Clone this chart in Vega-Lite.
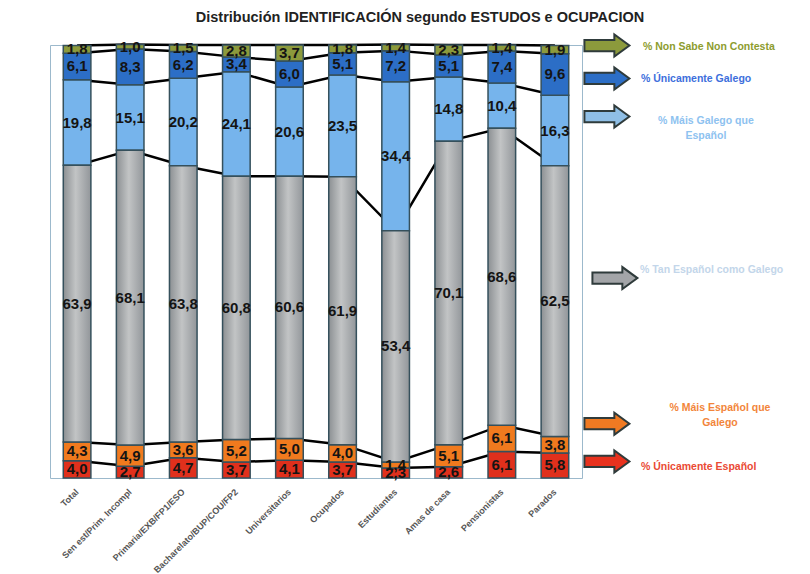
{
  "$schema": "https://vega.github.io/schema/vega-lite/v6.json",
  "width": 532,
  "height": 433,
  "autosize": {"type": "none"},
  "padding": {"left": 50, "top": 45, "right": 228, "bottom": 96},
  "background": "white",
  "config": {
    "locale": {"number": {"decimal": ",", "thousands": ".", "grouping": [3], "currency": ["", " €"]}},
    "view": {"stroke": "#9cb9cc", "strokeWidth": 1},
    "font": "Liberation Sans"
  },
  "title": {
    "text": "Distribución IDENTIFICACIÓN segundo ESTUDOS e OCUPACION",
    "fontSize": 14.5,
    "fontWeight": "bold",
    "color": "#222222",
    "anchor": "middle",
    "dx": 104,
    "dy": 23,
    "offset": 5
  },
  "data": {
    "values": [
      {"grupo": "Total", "serie": "Únicamente Español", "orden": 1, "valor": 4.0},
      {"grupo": "Total", "serie": "Máis Español que Galego", "orden": 2, "valor": 4.3},
      {"grupo": "Total", "serie": "Tan Español como Galego", "orden": 3, "valor": 63.9},
      {"grupo": "Total", "serie": "Máis Galego que Español", "orden": 4, "valor": 19.8},
      {"grupo": "Total", "serie": "Únicamente Galego", "orden": 5, "valor": 6.1},
      {"grupo": "Total", "serie": "Non Sabe Non Contesta", "orden": 6, "valor": 1.8},
      {"grupo": "Sen est/Prim. Incompl", "serie": "Únicamente Español", "orden": 1, "valor": 2.7},
      {"grupo": "Sen est/Prim. Incompl", "serie": "Máis Español que Galego", "orden": 2, "valor": 4.9},
      {"grupo": "Sen est/Prim. Incompl", "serie": "Tan Español como Galego", "orden": 3, "valor": 68.1},
      {"grupo": "Sen est/Prim. Incompl", "serie": "Máis Galego que Español", "orden": 4, "valor": 15.1},
      {"grupo": "Sen est/Prim. Incompl", "serie": "Únicamente Galego", "orden": 5, "valor": 8.3},
      {"grupo": "Sen est/Prim. Incompl", "serie": "Non Sabe Non Contesta", "orden": 6, "valor": 1.0},
      {"grupo": "Primaria/EXB/FP1/ESO", "serie": "Únicamente Español", "orden": 1, "valor": 4.7},
      {"grupo": "Primaria/EXB/FP1/ESO", "serie": "Máis Español que Galego", "orden": 2, "valor": 3.6},
      {"grupo": "Primaria/EXB/FP1/ESO", "serie": "Tan Español como Galego", "orden": 3, "valor": 63.8},
      {"grupo": "Primaria/EXB/FP1/ESO", "serie": "Máis Galego que Español", "orden": 4, "valor": 20.2},
      {"grupo": "Primaria/EXB/FP1/ESO", "serie": "Únicamente Galego", "orden": 5, "valor": 6.2},
      {"grupo": "Primaria/EXB/FP1/ESO", "serie": "Non Sabe Non Contesta", "orden": 6, "valor": 1.5},
      {"grupo": "Bacharelato/BUP/COU/FP2", "serie": "Únicamente Español", "orden": 1, "valor": 3.7},
      {"grupo": "Bacharelato/BUP/COU/FP2", "serie": "Máis Español que Galego", "orden": 2, "valor": 5.2},
      {"grupo": "Bacharelato/BUP/COU/FP2", "serie": "Tan Español como Galego", "orden": 3, "valor": 60.8},
      {"grupo": "Bacharelato/BUP/COU/FP2", "serie": "Máis Galego que Español", "orden": 4, "valor": 24.1},
      {"grupo": "Bacharelato/BUP/COU/FP2", "serie": "Únicamente Galego", "orden": 5, "valor": 3.4},
      {"grupo": "Bacharelato/BUP/COU/FP2", "serie": "Non Sabe Non Contesta", "orden": 6, "valor": 2.8},
      {"grupo": "Universitarios", "serie": "Únicamente Español", "orden": 1, "valor": 4.1},
      {"grupo": "Universitarios", "serie": "Máis Español que Galego", "orden": 2, "valor": 5.0},
      {"grupo": "Universitarios", "serie": "Tan Español como Galego", "orden": 3, "valor": 60.6},
      {"grupo": "Universitarios", "serie": "Máis Galego que Español", "orden": 4, "valor": 20.6},
      {"grupo": "Universitarios", "serie": "Únicamente Galego", "orden": 5, "valor": 6.0},
      {"grupo": "Universitarios", "serie": "Non Sabe Non Contesta", "orden": 6, "valor": 3.7},
      {"grupo": "Ocupados", "serie": "Únicamente Español", "orden": 1, "valor": 3.7},
      {"grupo": "Ocupados", "serie": "Máis Español que Galego", "orden": 2, "valor": 4.0},
      {"grupo": "Ocupados", "serie": "Tan Español como Galego", "orden": 3, "valor": 61.9},
      {"grupo": "Ocupados", "serie": "Máis Galego que Español", "orden": 4, "valor": 23.5},
      {"grupo": "Ocupados", "serie": "Únicamente Galego", "orden": 5, "valor": 5.1},
      {"grupo": "Ocupados", "serie": "Non Sabe Non Contesta", "orden": 6, "valor": 1.8},
      {"grupo": "Estudiantes", "serie": "Únicamente Español", "orden": 1, "valor": 2.3},
      {"grupo": "Estudiantes", "serie": "Máis Español que Galego", "orden": 2, "valor": 1.4},
      {"grupo": "Estudiantes", "serie": "Tan Español como Galego", "orden": 3, "valor": 53.4},
      {"grupo": "Estudiantes", "serie": "Máis Galego que Español", "orden": 4, "valor": 34.4},
      {"grupo": "Estudiantes", "serie": "Únicamente Galego", "orden": 5, "valor": 7.2},
      {"grupo": "Estudiantes", "serie": "Non Sabe Non Contesta", "orden": 6, "valor": 1.4},
      {"grupo": "Amas de casa", "serie": "Únicamente Español", "orden": 1, "valor": 2.6},
      {"grupo": "Amas de casa", "serie": "Máis Español que Galego", "orden": 2, "valor": 5.1},
      {"grupo": "Amas de casa", "serie": "Tan Español como Galego", "orden": 3, "valor": 70.1},
      {"grupo": "Amas de casa", "serie": "Máis Galego que Español", "orden": 4, "valor": 14.8},
      {"grupo": "Amas de casa", "serie": "Únicamente Galego", "orden": 5, "valor": 5.1},
      {"grupo": "Amas de casa", "serie": "Non Sabe Non Contesta", "orden": 6, "valor": 2.3},
      {"grupo": "Pensionistas", "serie": "Únicamente Español", "orden": 1, "valor": 6.1},
      {"grupo": "Pensionistas", "serie": "Máis Español que Galego", "orden": 2, "valor": 6.1},
      {"grupo": "Pensionistas", "serie": "Tan Español como Galego", "orden": 3, "valor": 68.6},
      {"grupo": "Pensionistas", "serie": "Máis Galego que Español", "orden": 4, "valor": 10.4},
      {"grupo": "Pensionistas", "serie": "Únicamente Galego", "orden": 5, "valor": 7.4},
      {"grupo": "Pensionistas", "serie": "Non Sabe Non Contesta", "orden": 6, "valor": 1.4},
      {"grupo": "Parados", "serie": "Únicamente Español", "orden": 1, "valor": 5.8},
      {"grupo": "Parados", "serie": "Máis Español que Galego", "orden": 2, "valor": 3.8},
      {"grupo": "Parados", "serie": "Tan Español como Galego", "orden": 3, "valor": 62.5},
      {"grupo": "Parados", "serie": "Máis Galego que Español", "orden": 4, "valor": 16.3},
      {"grupo": "Parados", "serie": "Únicamente Galego", "orden": 5, "valor": 9.6},
      {"grupo": "Parados", "serie": "Non Sabe Non Contesta", "orden": 6, "valor": 1.9}
    ]
  },
  "transform": [
    {"stack": "valor", "groupby": ["grupo"], "sort": [{"field": "orden", "order": "ascending"}], "as": ["y0", "y1"]}
  ],
  "encoding": {
    "x": {
      "field": "grupo",
      "type": "nominal",
      "sort": null,
      "scale": {"paddingInner": 0.48, "paddingOuter": 0.25},
      "axis": {
        "title": null,
        "labelAngle": -45,
        "labelAlign": "right",
        "labelBaseline": "middle",
        "labelFontSize": 9,
        "labelFontWeight": "bold",
        "labelColor": "#555555",
        "ticks": false,
        "domain": false,
        "labelPadding": 12,
        "labelLimit": 200
      }
    }
  },
  "layer": [
    {
      "mark": {"type": "line", "color": "#000000", "strokeWidth": 2.5},
      "encoding": {
        "y": {
          "field": "y1",
          "type": "quantitative",
          "scale": {"domain": [0, 100], "nice": false},
          "axis": {
            "title": null,
            "values": [0, 20, 40, 60, 80, 100],
            "labelExpr": "datum.value + '%'",
            "grid": true,
            "gridColor": "#b7c9d6",
            "gridWidth": 1,
            "domain": false,
            "ticks": true,
            "tickColor": "#9cb9cc",
            "tickSize": 8,
            "labelFontSize": 11,
            "labelFontWeight": "bold",
            "labelColor": "#3a3a3a",
            "labelPadding": 1
          }
        },
        "detail": {"field": "serie"}
      }
    },
    {
      "transform": [{"filter": "datum.orden !== 3"}],
      "mark": {"type": "bar", "stroke": "#35505c", "strokeWidth": 1.5},
      "encoding": {
        "y": {"field": "y0", "type": "quantitative", "axis": null},
        "y2": {"field": "y1"},
        "color": {
          "field": "serie",
          "type": "nominal",
          "scale": {
            "domain": ["Únicamente Español", "Máis Español que Galego", "Tan Español como Galego", "Máis Galego que Español", "Únicamente Galego", "Non Sabe Non Contesta"],
            "range": ["#e0301c", "#f07a1e", "#a5a8aa", "#76b4ec", "#2c6ec6", "#8c9a3c"]
          },
          "legend": null
        }
      }
    },
    {
      "transform": [{"filter": "datum.orden === 3"}],
      "mark": {
        "type": "bar",
        "stroke": "#35505c",
        "strokeWidth": 1.5,
        "fill": {
          "gradient": "linear",
          "x1": 0, "y1": 0, "x2": 1, "y2": 0,
          "stops": [
            {"offset": 0, "color": "#8c9093"},
            {"offset": 0.45, "color": "#c2c4c5"},
            {"offset": 1, "color": "#92969a"}
          ]
        }
      },
      "encoding": {
        "y": {"field": "y0", "type": "quantitative", "axis": null},
        "y2": {"field": "y1"}
      }
    },
    {
      "mark": {"type": "text", "fontSize": 15, "fontWeight": "bold", "color": "#141414", "baseline": "middle"},
      "encoding": {
        "y": {"field": "valor", "type": "quantitative", "stack": "zero", "bandPosition": 0.5, "axis": null},
        "order": {"field": "orden", "type": "quantitative"},
        "text": {"field": "valor", "type": "quantitative", "format": ".1f"}
      }
    },
    {
      "transform": [{"filter": "datum.grupo === 'Parados'"}],
      "encoding": {
        "y": {"field": "valor", "type": "quantitative", "stack": "zero", "bandPosition": 0.5, "axis": null},
        "order": {"field": "orden", "type": "quantitative"}
      },
      "layer": [
        {
          "mark": {"type": "text", "align": "left", "baseline": "middle", "xOffset": 88, "yOffset": -3, "fontSize": 10.5, "fontWeight": "bold", "color": "#8d9c2e"},
          "encoding": {"text": {"condition": {"test": "datum.orden === 6", "value": "% Non Sabe Non Contesta"}, "value": ""}}
        },
        {
          "mark": {"type": "text", "align": "left", "baseline": "middle", "xOffset": 86, "yOffset": 5, "fontSize": 10.5, "fontWeight": "bold", "color": "#3d6fdc"},
          "encoding": {"text": {"condition": {"test": "datum.orden === 5", "value": "% Únicamente Galego"}, "value": ""}}
        },
        {
          "mark": {"type": "text", "align": "center", "baseline": "middle", "lineHeight": 15, "xOffset": 151, "yOffset": -10, "fontSize": 10.5, "fontWeight": "bold", "color": "#8ec2f0"},
          "encoding": {"text": {"condition": {"test": "datum.orden === 4", "value": ["% Máis Galego que", "Español"]}, "value": ""}}
        },
        {
          "mark": {"type": "text", "align": "left", "baseline": "middle", "xOffset": 85, "yOffset": -31, "fontSize": 10.5, "fontWeight": "bold", "color": "#c3d6ea"},
          "encoding": {"text": {"condition": {"test": "datum.orden === 3", "value": "% Tan Español como Galego"}, "value": ""}}
        },
        {
          "mark": {"type": "text", "align": "center", "baseline": "middle", "lineHeight": 15, "xOffset": 165, "yOffset": -37, "fontSize": 10.5, "fontWeight": "bold", "color": "#f2853a"},
          "encoding": {"text": {"condition": {"test": "datum.orden === 2", "value": ["% Máis Español que", "Galego"]}, "value": ""}}
        },
        {
          "mark": {"type": "text", "align": "left", "baseline": "middle", "xOffset": 86, "yOffset": 2, "fontSize": 10.5, "fontWeight": "bold", "color": "#ea4a34"},
          "encoding": {"text": {"condition": {"test": "datum.orden === 1", "value": "% Únicamente Español"}, "value": ""}}
        }
      ]
    },
    {
      "transform": [{"filter": "datum.grupo === 'Parados' && datum.orden === 6"}],
      "mark": {"type": "point", "shape": "M-1,-0.25L0.33,-0.25L0.33,-0.49L1,0L0.33,0.49L0.33,0.25L-1,0.25Z", "size": 2025, "filled": true, "fill": "#8c9a3c", "stroke": "#2f3b3b", "strokeWidth": 2, "opacity": 1, "xOffset": 52, "yOffset": -4},
      "encoding": {
        "y": {"field": "y0", "type": "quantitative", "bin": "binned", "axis": null},
        "y2": {"field": "y1"}
      }
    },
    {
      "transform": [{"filter": "datum.grupo === 'Parados' && datum.orden === 5"}],
      "mark": {"type": "point", "shape": "M-1,-0.25L0.33,-0.25L0.33,-0.49L1,0L0.33,0.49L0.33,0.25L-1,0.25Z", "size": 2025, "filled": true, "fill": "#2c6ec6", "stroke": "#2f3b3b", "strokeWidth": 2, "opacity": 1, "xOffset": 52, "yOffset": 4},
      "encoding": {
        "y": {"field": "y0", "type": "quantitative", "bin": "binned", "axis": null},
        "y2": {"field": "y1"}
      }
    },
    {
      "transform": [{"filter": "datum.grupo === 'Parados' && datum.orden === 4"}],
      "mark": {"type": "point", "shape": "M-1,-0.25L0.33,-0.25L0.33,-0.49L1,0L0.33,0.49L0.33,0.25L-1,0.25Z", "size": 2025, "filled": true, "fill": "#8fbfe6", "stroke": "#2f3b3b", "strokeWidth": 2, "opacity": 1, "xOffset": 52, "yOffset": -14},
      "encoding": {
        "y": {"field": "y0", "type": "quantitative", "bin": "binned", "axis": null},
        "y2": {"field": "y1"}
      }
    },
    {
      "transform": [{"filter": "datum.grupo === 'Parados' && datum.orden === 3"}],
      "mark": {"type": "point", "shape": "M-1,-0.25L0.33,-0.25L0.33,-0.49L1,0L0.33,0.49L0.33,0.25L-1,0.25Z", "size": 2025, "filled": true, "fill": "#a3a5a8", "stroke": "#2f3b3b", "strokeWidth": 2, "opacity": 1, "xOffset": 60, "yOffset": -23},
      "encoding": {
        "y": {"field": "y0", "type": "quantitative", "bin": "binned", "axis": null},
        "y2": {"field": "y1"}
      }
    },
    {
      "transform": [{"filter": "datum.grupo === 'Parados' && datum.orden === 2"}],
      "mark": {"type": "point", "shape": "M-1,-0.25L0.33,-0.25L0.33,-0.49L1,0L0.33,0.49L0.33,0.25L-1,0.25Z", "size": 2025, "filled": true, "fill": "#f07a22", "stroke": "#2f3b3b", "strokeWidth": 2, "opacity": 1, "xOffset": 52, "yOffset": -21},
      "encoding": {
        "y": {"field": "y0", "type": "quantitative", "bin": "binned", "axis": null},
        "y2": {"field": "y1"}
      }
    },
    {
      "transform": [{"filter": "datum.grupo === 'Parados' && datum.orden === 1"}],
      "mark": {"type": "point", "shape": "M-1,-0.25L0.33,-0.25L0.33,-0.49L1,0L0.33,0.49L0.33,0.25L-1,0.25Z", "size": 2025, "filled": true, "fill": "#e8321e", "stroke": "#2f3b3b", "strokeWidth": 2, "opacity": 1, "xOffset": 52, "yOffset": -4},
      "encoding": {
        "y": {"field": "y0", "type": "quantitative", "bin": "binned", "axis": null},
        "y2": {"field": "y1"}
      }
    }
  ]
}
